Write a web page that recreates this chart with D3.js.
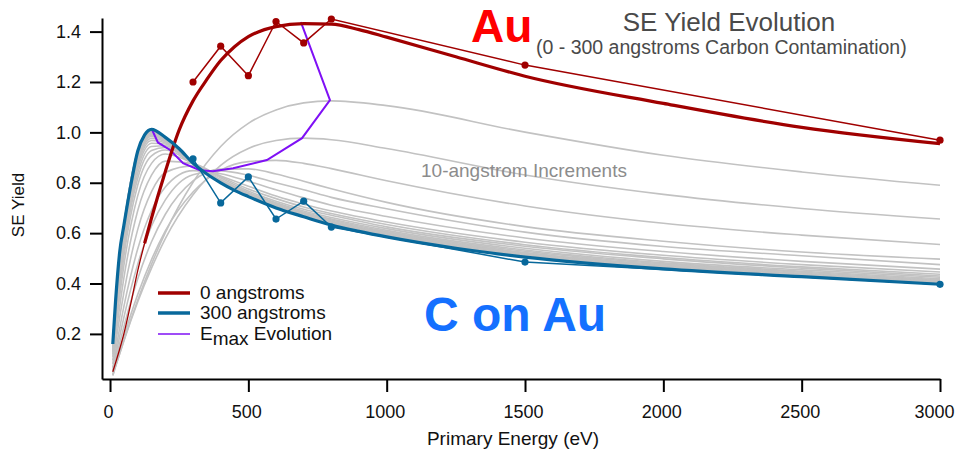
<!DOCTYPE html>
<html>
<head>
<meta charset="utf-8">
<script src="https://cdn.jsdelivr.net/npm/d3@7"></script>
<style>
  body { margin: 0; background: #fff; }
  svg text { font-family: "Liberation Sans", Arial, sans-serif; }
</style>
</head>
<body>
<svg id="chart" width="957" height="452"></svg>
<script>
// 0 angstroms (Au) and 300 angstroms (C on Au), dense curves
var fineEnergy = [10, 20, 35, 50, 75, 100, 125, 150, 200, 250, 300, 350, 400, 450, 500, 600, 700, 800, 900, 1000, 1250, 1500, 2000, 2500, 3000];
var auYield = [0.05, 0.085, 0.14, 0.2, 0.32, 0.45, 0.56, 0.66, 0.845, 1.01, 1.125, 1.21, 1.285, 1.34, 1.38, 1.42, 1.432, 1.43, 1.408, 1.378, 1.3, 1.223, 1.115, 1.02, 0.955];
var cYield = [0.16, 0.33, 0.525, 0.63, 0.79, 0.925, 0.99, 1.012, 0.98, 0.935, 0.878, 0.835, 0.8, 0.77, 0.745, 0.7, 0.665, 0.632, 0.607, 0.585, 0.54, 0.505, 0.458, 0.427, 0.397];

// 10-angstrom increments (10 ... 290)
var grayEnergy = [10, 25, 50, 100, 150, 200, 300, 400, 500, 600, 700, 800, 1000, 1500, 2000, 2500, 3000];
var grayThickness = [10, 20, 30, 40, 50, 60, 70, 80, 90, 100, 110, 120, 130, 140, 150, 160, 170, 180, 190, 200, 210, 220, 230, 240, 250, 260, 270, 280, 290];
var grayYield = [
  [0.036, 0.088, 0.174, 0.334, 0.477, 0.602, 0.802, 0.944, 1.036, 1.089, 1.117, 1.125, 1.106, 1.001, 0.909, 0.843, 0.79],
  [0.035, 0.087, 0.172, 0.327, 0.461, 0.578, 0.752, 0.869, 0.936, 0.968, 0.977, 0.971, 0.936, 0.831, 0.754, 0.698, 0.656],
  [0.039, 0.098, 0.19, 0.356, 0.495, 0.609, 0.763, 0.85, 0.884, 0.889, 0.877, 0.856, 0.808, 0.708, 0.639, 0.592, 0.555],
  [0.048, 0.118, 0.228, 0.418, 0.566, 0.675, 0.807, 0.854, 0.855, 0.835, 0.806, 0.776, 0.722, 0.626, 0.568, 0.525, 0.497],
  [0.057, 0.139, 0.265, 0.476, 0.629, 0.732, 0.832, 0.847, 0.83, 0.8, 0.772, 0.742, 0.697, 0.604, 0.547, 0.51, 0.475],
  [0.066, 0.162, 0.308, 0.537, 0.69, 0.783, 0.848, 0.836, 0.806, 0.772, 0.74, 0.711, 0.666, 0.581, 0.527, 0.488, 0.457],
  [0.081, 0.196, 0.364, 0.614, 0.765, 0.841, 0.867, 0.827, 0.786, 0.747, 0.715, 0.688, 0.644, 0.564, 0.512, 0.475, 0.446],
  [0.095, 0.227, 0.421, 0.689, 0.83, 0.886, 0.876, 0.824, 0.775, 0.737, 0.704, 0.678, 0.634, 0.554, 0.503, 0.466, 0.437],
  [0.109, 0.26, 0.471, 0.748, 0.877, 0.914, 0.877, 0.819, 0.767, 0.727, 0.695, 0.671, 0.625, 0.548, 0.498, 0.461, 0.43],
  [0.119, 0.282, 0.507, 0.79, 0.907, 0.93, 0.876, 0.812, 0.761, 0.721, 0.688, 0.662, 0.618, 0.54, 0.488, 0.454, 0.425],
  [0.127, 0.306, 0.532, 0.817, 0.928, 0.94, 0.876, 0.81, 0.758, 0.717, 0.683, 0.656, 0.611, 0.533, 0.482, 0.449, 0.419],
  [0.133, 0.323, 0.55, 0.837, 0.944, 0.947, 0.877, 0.808, 0.755, 0.714, 0.68, 0.652, 0.606, 0.528, 0.478, 0.445, 0.415],
  [0.139, 0.339, 0.566, 0.855, 0.957, 0.954, 0.877, 0.806, 0.753, 0.711, 0.677, 0.648, 0.602, 0.523, 0.474, 0.441, 0.412],
  [0.143, 0.35, 0.578, 0.868, 0.968, 0.959, 0.877, 0.805, 0.752, 0.709, 0.675, 0.645, 0.599, 0.52, 0.471, 0.438, 0.409],
  [0.146, 0.36, 0.588, 0.879, 0.976, 0.963, 0.877, 0.804, 0.75, 0.707, 0.673, 0.642, 0.596, 0.517, 0.468, 0.436, 0.407],
  [0.149, 0.368, 0.597, 0.889, 0.984, 0.967, 0.877, 0.803, 0.749, 0.706, 0.671, 0.64, 0.594, 0.514, 0.466, 0.434, 0.405],
  [0.151, 0.374, 0.603, 0.895, 0.989, 0.969, 0.878, 0.803, 0.749, 0.705, 0.67, 0.639, 0.592, 0.513, 0.465, 0.433, 0.403],
  [0.153, 0.379, 0.608, 0.901, 0.993, 0.971, 0.878, 0.802, 0.748, 0.704, 0.669, 0.637, 0.591, 0.511, 0.463, 0.432, 0.402],
  [0.154, 0.383, 0.612, 0.905, 0.997, 0.973, 0.878, 0.802, 0.747, 0.703, 0.668, 0.636, 0.59, 0.51, 0.462, 0.431, 0.401],
  [0.155, 0.386, 0.616, 0.909, 1.0, 0.974, 0.878, 0.801, 0.747, 0.702, 0.668, 0.635, 0.589, 0.509, 0.461, 0.43, 0.4],
  [0.156, 0.389, 0.619, 0.913, 1.003, 0.976, 0.878, 0.801, 0.746, 0.702, 0.667, 0.635, 0.588, 0.508, 0.461, 0.429, 0.4],
  [0.157, 0.392, 0.621, 0.916, 1.005, 0.977, 0.878, 0.801, 0.746, 0.701, 0.667, 0.634, 0.587, 0.507, 0.46, 0.429, 0.399],
  [0.158, 0.394, 0.623, 0.918, 1.006, 0.977, 0.878, 0.801, 0.746, 0.701, 0.666, 0.634, 0.587, 0.507, 0.46, 0.428, 0.399],
  [0.158, 0.395, 0.625, 0.92, 1.008, 0.978, 0.878, 0.8, 0.746, 0.701, 0.666, 0.633, 0.586, 0.506, 0.459, 0.428, 0.398],
  [0.159, 0.397, 0.627, 0.921, 1.009, 0.979, 0.878, 0.8, 0.745, 0.701, 0.666, 0.633, 0.586, 0.506, 0.459, 0.428, 0.398],
  [0.159, 0.398, 0.628, 0.923, 1.01, 0.979, 0.878, 0.8, 0.745, 0.7, 0.665, 0.633, 0.586, 0.506, 0.459, 0.427, 0.398],
  [0.16, 0.399, 0.629, 0.924, 1.011, 0.98, 0.878, 0.8, 0.745, 0.7, 0.665, 0.632, 0.585, 0.505, 0.458, 0.427, 0.397],
  [0.16, 0.4, 0.63, 0.925, 1.012, 0.98, 0.878, 0.8, 0.745, 0.7, 0.665, 0.632, 0.585, 0.505, 0.458, 0.427, 0.397],
  [0.16, 0.4, 0.63, 0.925, 1.012, 0.98, 0.878, 0.8, 0.745, 0.7, 0.665, 0.632, 0.585, 0.505, 0.458, 0.427, 0.397]
];

// measured points
var measEnergy = [300, 400, 500, 600, 700, 800, 1500, 3000];
var auMeasured = [1.2, 1.342, 1.225, 1.44, 1.355, 1.45, 1.267, 0.969];
var cMeasured = [0.895, 0.72, 0.823, 0.656, 0.727, 0.624, 0.485, 0.397];

// Emax evolution (peak energy, peak yield)
var emaxEnergy = [150, 173, 217, 264, 325, 372, 445, 567, 694, 795, 690];
var emaxYield = [1.015, 0.96, 0.93, 0.878, 0.85, 0.846, 0.858, 0.89, 0.977, 1.128, 1.438];

var xTicks = [0, 500, 1000, 1500, 2000, 2500, 3000];
var yTicks = [0.2, 0.4, 0.6, 0.8, 1.0, 1.2, 1.4];

var red = "#a00000", blue = "#08689b", purple = "#7f10f5", gray = "#c2c2c2";

var svg = d3.select("#chart");

var x = d3.scaleLinear().domain([-29, 3000]).range([102, 940]);
var y = d3.scaleLinear().domain([0.021, 1.454]).range([379, 18]);

function pairs(xs, ys) {
  return xs.map(function (e, i) { return [e, ys[i]]; });
}

var smooth = d3.line()
  .x(function (d) { return x(d[0]); })
  .y(function (d) { return y(d[1]); })
  .curve(d3.curveMonotoneX);

var straight = d3.line()
  .x(function (d) { return x(d[0]); })
  .y(function (d) { return y(d[1]); });

// gray family
svg.append("g")
  .selectAll("path")
  .data(grayYield)
  .enter()
  .append("path")
  .attr("d", function (row) { return smooth(pairs(grayEnergy, row)); })
  .attr("fill", "none")
  .attr("stroke", gray)
  .attr("stroke-width", 1.6);

// Emax evolution
svg.append("path")
  .attr("d", straight(pairs(emaxEnergy, emaxYield)))
  .attr("fill", "none")
  .attr("stroke", purple)
  .attr("stroke-width", 2);

// measured data
function measured(vals, color) {
  var pts = pairs(measEnergy, vals);
  svg.append("path")
    .attr("d", straight(pts))
    .attr("fill", "none")
    .attr("stroke", color)
    .attr("stroke-width", 1.5);
  svg.append("g")
    .selectAll("circle")
    .data(pts)
    .enter()
    .append("circle")
    .attr("cx", function (d) { return x(d[0]); })
    .attr("cy", function (d) { return y(d[1]); })
    .attr("r", 3.6)
    .attr("fill", color);
}
measured(auMeasured, red);
measured(cMeasured, blue);

// Au curve: thin at low energy, thick afterwards
var auPts = pairs(fineEnergy, auYield);
svg.append("path")
  .attr("d", smooth(auPts))
  .attr("fill", "none")
  .attr("stroke", red)
  .attr("stroke-width", 1.3);
svg.append("path")
  .attr("d", smooth(auPts.filter(function (d) { return d[0] >= 125; })))
  .attr("fill", "none")
  .attr("stroke", red)
  .attr("stroke-width", 3.2);

svg.append("path")
  .attr("d", smooth(pairs(fineEnergy, cYield)))
  .attr("fill", "none")
  .attr("stroke", blue)
  .attr("stroke-width", 3.2);

// axes
var xAxis = d3.axisBottom(x).tickValues(xTicks).tickFormat(d3.format("d"))
  .tickSizeInner(13).tickSizeOuter(0).tickPadding(13);
var yAxis = d3.axisLeft(y).tickValues(yTicks).tickFormat(d3.format(".1f"))
  .tickSizeInner(12).tickSizeOuter(0).tickPadding(9);

var gx = svg.append("g").attr("transform", "translate(0,379)").call(xAxis);
var gy = svg.append("g").attr("transform", "translate(102,0)").call(yAxis);

[gx, gy].forEach(function (g) {
  g.select(".domain").attr("stroke", "#000").attr("stroke-width", 2);
  g.selectAll(".tick line").attr("stroke", "#000").attr("stroke-width", 2);
  g.selectAll(".tick text")
    .attr("fill", "#111")
    .style("font-size", "18px")
    .style("font-family", "'Liberation Sans', Arial, sans-serif");
});
// labels sit a little left of their ticks, last one must stay in the window
gx.selectAll(".tick text").attr("x", function (d) { return d === 3000 ? -6 : -2; });

svg.append("text")
  .attr("x", 513).attr("y", 445)
  .attr("text-anchor", "middle")
  .style("font-size", "19px")
  .attr("fill", "#111")
  .text("Primary Energy (eV)");

svg.append("text")
  .attr("transform", "translate(24,205) rotate(-90)")
  .attr("text-anchor", "middle")
  .style("font-size", "17px")
  .attr("fill", "#111")
  .text("SE Yield");

// titles and notes
svg.append("text")
  .attr("x", 729).attr("y", 31)
  .attr("text-anchor", "middle")
  .style("font-size", "26px")
  .attr("fill", "#4a4a4a")
  .text("SE Yield Evolution");

svg.append("text")
  .attr("x", 536).attr("y", 54)
  .style("font-size", "19.5px")
  .attr("fill", "#4a4a4a")
  .text("(0 - 300 angstroms Carbon Contamination)");

svg.append("text")
  .attr("x", 471).attr("y", 42)
  .style("font-size", "46px")
  .style("font-weight", "bold")
  .attr("fill", "#ff0000")
  .text("Au");

svg.append("text")
  .attr("x", 424).attr("y", 331)
  .style("font-size", "48px")
  .style("font-weight", "bold")
  .attr("fill", "#1470ff")
  .text("C on Au");

svg.append("text")
  .attr("x", 421).attr("y", 177)
  .style("font-size", "19px")
  .attr("fill", "#8c8c8c")
  .text("10-angstrom Increments");

// legend
var legend = [
  { label: "0 angstroms", color: red, width: 3.5, y: 293 },
  { label: "300 angstroms", color: blue, width: 3.5, y: 313 },
  { label: "E", sub: "max", rest: " Evolution", color: purple, width: 1.5, y: 334 }
];
var lg = svg.append("g");
legend.forEach(function (l) {
  lg.append("line")
    .attr("x1", 158).attr("x2", 190)
    .attr("y1", l.y).attr("y2", l.y)
    .attr("stroke", l.color)
    .attr("stroke-width", l.width);
  var t = lg.append("text")
    .attr("x", 200).attr("y", l.y + 6)
    .style("font-size", "19px")
    .attr("fill", "#111")
    .text(l.label);
  if (l.sub) {
    t.append("tspan").attr("dy", 5).text(l.sub);
    t.append("tspan").attr("dy", -5).text(l.rest);
  }
});
</script>
</body>
</html>
